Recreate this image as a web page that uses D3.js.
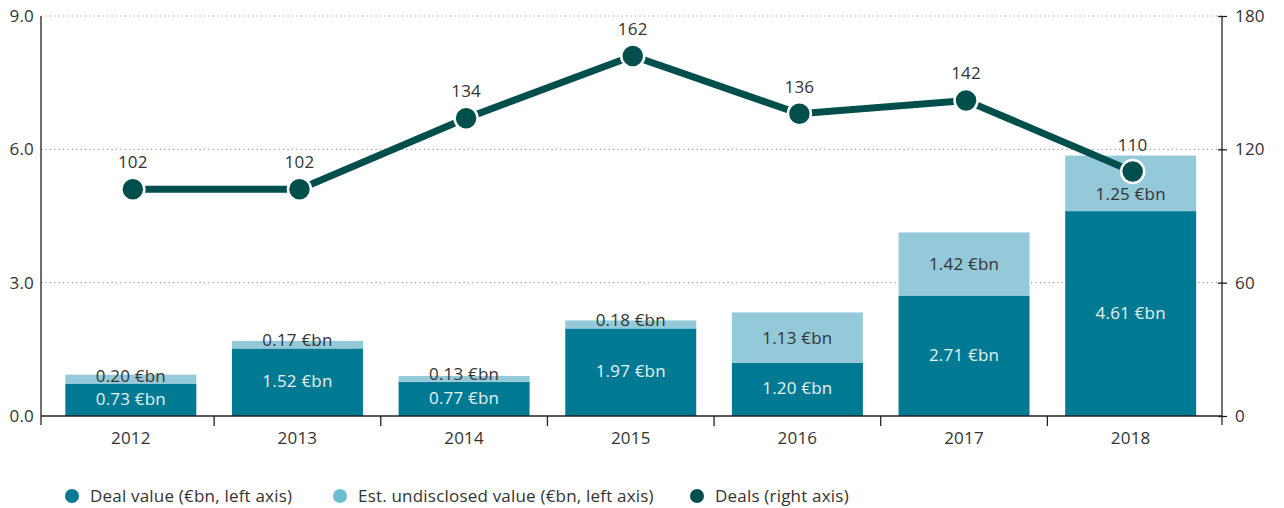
<!DOCTYPE html>
<html><head><meta charset="utf-8">
<script src="https://cdn.jsdelivr.net/npm/d3@7"></script>
<style>body{margin:0;background:#fff;} svg{display:block;font-family:"Open Sans",sans-serif;} svg text{letter-spacing:0.2px;}</style>
</head><body>
<svg id="c" width="1284" height="508"></svg>
<script>
const years = ["2012","2013","2014","2015","2016","2017","2018"];
const dealValue = [0.73,1.52,0.77,1.97,1.20,2.71,4.61];
const undisclosed = [0.20,0.17,0.13,0.18,1.13,1.42,1.25];
const deals = [102,102,134,162,136,142,110];
const leftTicks = [0,3,6,9];
const rightTicks = [0,60,120,180];
const legendLabels = ["Deal value (€bn, left axis)","Est. undisclosed value (€bn, left axis)","Deals (right axis)"];

const C_DARK="#007a93", C_LIGHT="#93c9d8", C_LINE="#004f4c", C_TEXT="#333333";
const FS=17;
const svg = d3.select("#c");
const L=41, R=1222, T=16, B=416;
const x = d3.scaleBand().domain(years).range([47.5,1214]).paddingInner(0.214).paddingOuter(0.107);
const y = d3.scaleLinear().domain([0,9]).range([B,T]);
const y2 = d3.scaleLinear().domain([0,180]).range([B,T]);
const px = i=>x(years[i])+x.bandwidth()/2+2;

// gridlines
svg.append("g").selectAll("line").data(leftTicks.filter(d=>d>0)).join("line")
  .attr("x1",L).attr("x2",R).attr("y1",d=>y(d)).attr("y2",d=>y(d))
  .attr("stroke","#a89c94").attr("stroke-width",1.2).attr("stroke-dasharray","1.2,3.2");

// bars
const g = svg.append("g");
years.forEach((yr,i)=>{
  const x0=x(yr), w=x.bandwidth();
  const yTop=y(dealValue[i]+undisclosed[i]), yMid=y(dealValue[i]);
  g.append("rect").attr("x",x0).attr("width",w).attr("y",yMid).attr("height",y(0)-yMid).attr("fill",C_DARK);
  g.append("rect").attr("x",x0).attr("width",w).attr("y",yTop).attr("height",yMid-yTop).attr("fill",C_LIGHT);
  g.append("text").attr("x",x0+w/2).attr("y",(y(0)+yMid)/2-1).attr("dy","0.35em").attr("text-anchor","middle")
    .attr("font-size",FS).attr("fill","#e6f2f5").text(dealValue[i].toFixed(2)+" €bn");
  const py=y2(deals[i]);
  let ly=Math.min((yMid+yTop)/2, yMid-8);
  if (py>yTop && py<yMid) ly = py + 22;
  g.append("text").attr("x",x0+w/2).attr("y",ly).attr("dy","0.35em").attr("text-anchor","middle")
    .attr("font-size",FS).attr("fill",C_TEXT).text(undisclosed[i].toFixed(2)+" €bn");
});

// axes
const axL = svg.append("g").attr("transform",`translate(${L},0)`)
  .call(d3.axisLeft(y).tickValues(leftTicks).tickFormat(d3.format(".1f")).tickSize(0).tickPadding(7));
axL.select(".domain").remove();
axL.selectAll("text").attr("font-size",FS).attr("fill",C_TEXT).attr("font-family","Open Sans");
svg.append("line").attr("x1",L).attr("x2",L).attr("y1",T).attr("y2",B+9).attr("stroke","#222").attr("stroke-width",1.3);

const axR = svg.append("g").attr("transform",`translate(${R},0)`)
  .call(d3.axisRight(y2).tickValues(rightTicks).tickSize(5).tickPadding(8));
axR.select(".domain").remove();
axR.selectAll("line").attr("x1",-4).attr("stroke","#222").attr("stroke-width",1.3);
axR.selectAll("text").attr("font-size",FS).attr("fill",C_TEXT).attr("font-family","Open Sans");
svg.append("line").attr("x1",R).attr("x2",R).attr("y1",T).attr("y2",B+9).attr("stroke","#222").attr("stroke-width",1.3);

// x axis
svg.append("line").attr("x1",L).attr("x2",R).attr("y1",B).attr("y2",B).attr("stroke","#222").attr("stroke-width",1.3);
const step = x.step();
svg.append("g").selectAll("line").data(years.slice(1)).join("line")
  .attr("x1",d=>x(d)-x.paddingInner()*step/2).attr("x2",d=>x(d)-x.paddingInner()*step/2)
  .attr("y1",B).attr("y2",B+10).attr("stroke","#222").attr("stroke-width",1.3);
svg.append("g").selectAll("text").data(years).join("text")
  .attr("x",d=>x(d)+x.bandwidth()/2).attr("y",438).attr("dy","0.35em").attr("text-anchor","middle")
  .attr("font-size",FS).attr("fill",C_TEXT).text(d=>d);

// line
svg.append("path").datum(deals)
  .attr("d",d3.line().x((d,i)=>px(i)).y(d=>y2(d)))
  .attr("fill","none").attr("stroke",C_LINE).attr("stroke-width",7);
svg.append("g").selectAll("circle").data(deals).join("circle")
  .attr("cx",(d,i)=>px(i)).attr("cy",d=>y2(d)).attr("r",11.5)
  .attr("fill",C_LINE).attr("stroke","#fff").attr("stroke-width",2.5);
svg.append("g").selectAll("text").data(deals).join("text")
  .attr("x",(d,i)=>px(i)).attr("y",d=>y2(d)-27).attr("dy","0.35em").attr("text-anchor","middle")
  .attr("font-size",FS).attr("fill",C_TEXT).text(d=>d);

// legend
const legX=[72,340,697], legC=[C_DARK,"#6dbcd0",C_LINE];
legendLabels.forEach((t,i)=>{
  svg.append("circle").attr("cx",legX[i]).attr("cy",496).attr("r",7).attr("fill",legC[i]);
  svg.append("text").attr("x",legX[i]+18).attr("y",496).attr("dy","0.35em").attr("font-size",FS).attr("fill",C_TEXT).text(t);
});
</script>
</body></html>
